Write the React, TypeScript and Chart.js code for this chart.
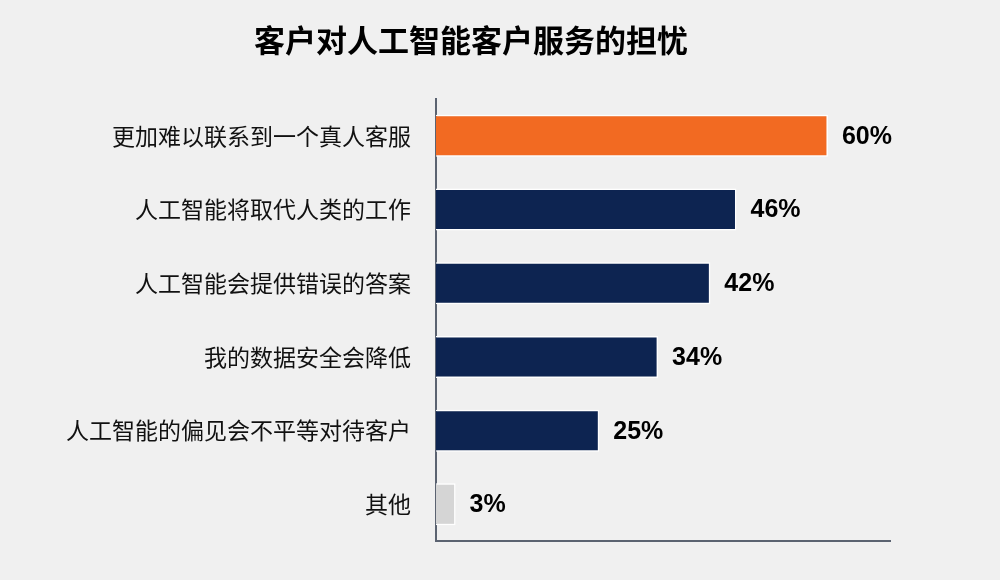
import React, { useEffect, useRef } from "react";
import { Chart, registerables } from "chart.js";

Chart.register(...registerables);

const TITLE = "客户对人工智能客户服务的担忧";
const categories = [
  "更加难以联系到一个真人客服",
  "人工智能将取代人类的工作",
  "人工智能会提供错误的答案",
  "我的数据安全会降低",
  "人工智能的偏见会不平等对待客户",
  "其他",
];
const values = [60, 46, 42, 34, 25, 3];
const barColors = ["#f26a22", "#0d2451", "#0d2451", "#0d2451", "#0d2451", "#d5d5d5"];
const valueLabels = ["60%", "46%", "42%", "34%", "25%", "3%"];

const titlePlugin = {
  id: "customTitle",
  afterDraw(chart: any) {
    const ctx = chart.ctx;
    ctx.save();
    ctx.font = "bold 31px 'Noto Sans CJK SC', sans-serif";
    ctx.fillStyle = "#000000";
    ctx.textAlign = "center";
    ctx.textBaseline = "middle";
    ctx.fillText(TITLE, 471, 40);
    ctx.restore();
  },
};

const valueLabelPlugin = {
  id: "valueLabels",
  afterDatasetsDraw(chart: any) {
    const ctx = chart.ctx;
    const meta = chart.getDatasetMeta(0);
    ctx.save();
    ctx.font = "bold 25px 'Liberation Sans', Arial, sans-serif";
    ctx.fillStyle = "#000000";
    ctx.textAlign = "left";
    ctx.textBaseline = "middle";
    meta.data.forEach((bar: any, i: number) => {
      ctx.fillText(valueLabels[i], bar.x + 14, bar.y + 1);
    });
    ctx.restore();
  },
};

export default function App() {
  const ref = useRef<HTMLCanvasElement | null>(null);
  useEffect(() => {
    if (!ref.current) return;
    const chart = new Chart(ref.current, {
      type: "bar",
      data: {
        labels: categories,
        datasets: [
          {
            data: values,
            backgroundColor: barColors,
            borderColor: "#ffffff",
            borderWidth: 1.5,
            borderSkipped: "start",
            categoryPercentage: 1,
            barPercentage: 0.57,
          },
        ],
      },
      options: {
        indexAxis: "y",
        animation: false,
        responsive: false,
        layout: { padding: { top: 99, right: 110, bottom: 32, left: 0 } },
        plugins: {
          legend: { display: false },
          tooltip: { enabled: false },
          title: { display: false },
        },
        scales: {
          x: {
            min: 0,
            max: 69.5,
            grid: { display: false, drawTicks: false },
            border: { display: true, color: "#5b6371", width: 2 },
            ticks: { display: false },
            afterFit: (s: any) => {
              s.height = 0;
            },
          },
          y: {
            grid: { display: false, drawTicks: false },
            border: { display: true, color: "#5b6371", width: 2 },
            ticks: {
              color: "#111111",
              padding: 25,
              font: { family: "'Noto Sans CJK SC', sans-serif", size: 23 },
            },
            afterFit: (s: any) => {
              s.width = 436;
            },
          },
        },
      },
      plugins: [valueLabelPlugin, titlePlugin],
    });
    return () => chart.destroy();
  }, []);
  return (
    <div style={{ position: "fixed", left: 0, top: 0, width: 1000, height: 580, background: "#f0f0f0" }}>
      <canvas ref={ref} width={1000} height={580} />
    </div>
  );
}
